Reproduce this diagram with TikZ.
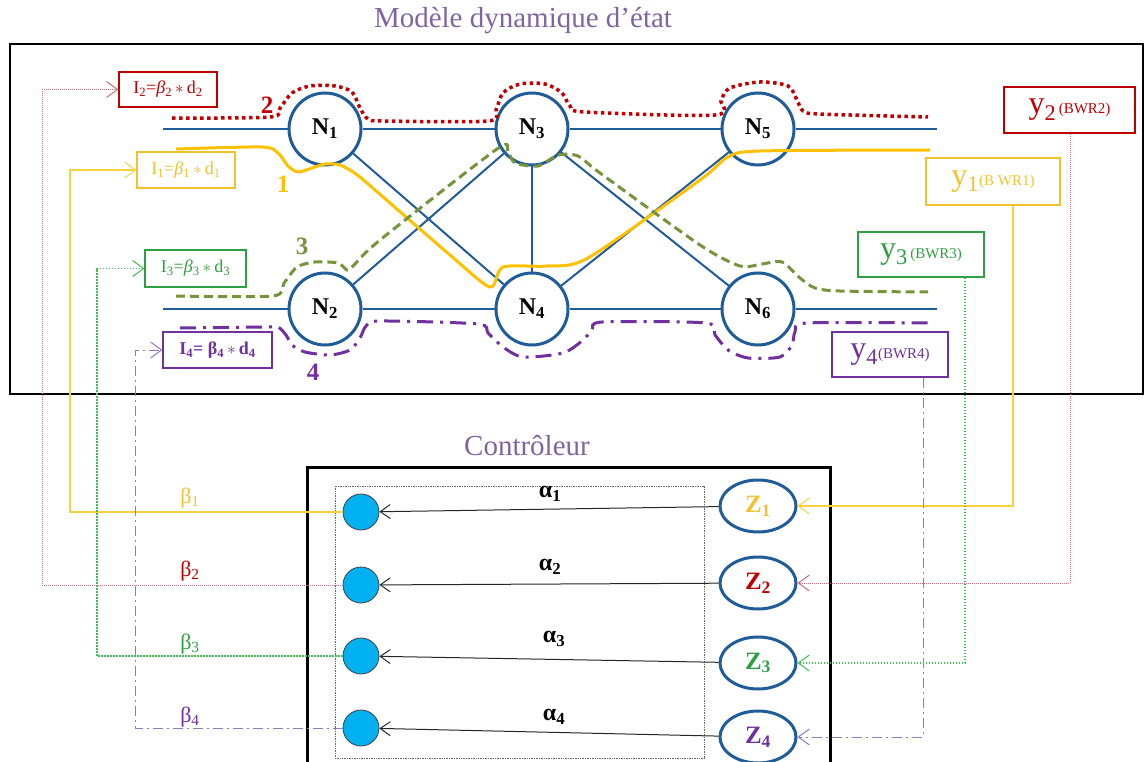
\documentclass[tikz,border=0pt]{standalone}
\usepackage{fontspec}
\setmainfont{Liberation Serif}
\usetikzlibrary{arrows.meta,shapes.geometric}
\definecolor{nblue}{HTML}{1F5C99}
\definecolor{dred}{HTML}{C00000}
\definecolor{gold}{HTML}{FFC000}
\definecolor{olivec}{HTML}{77933C}
\definecolor{purp}{HTML}{7030A0}
\definecolor{lav}{HTML}{8064A2}
\definecolor{ytxt}{HTML}{F2C12E}
\definecolor{grn}{HTML}{2EA043}
\definecolor{cyanf}{HTML}{00B0F0}
\definecolor{pinkc}{HTML}{C8707E}
\definecolor{lgrn}{HTML}{3CC050}
\definecolor{lyel}{HTML}{F8D040}
\definecolor{lpur}{HTML}{8C7CC0}
\begin{document}
\begin{tikzpicture}[x=1pt,y=-1pt,
  netnode/.style={circle,draw=nblue,line width=3pt,minimum size=72pt,inner sep=0pt,font=\fontsize{24}{24}\selectfont\bfseries},
  zell/.style={ellipse,draw=nblue,line width=3pt,minimum width=76pt,minimum height=52pt,inner sep=0pt,font=\fontsize{25}{25}\selectfont\bfseries},
  cdot/.style={circle,fill=cyanf,draw=black!75,line width=0.8pt,minimum size=36pt,inner sep=0pt},
  lbox/.style={draw,line width=1.2pt,inner sep=0pt,font=\fontsize{18}{18}\selectfont},
  ybox/.style={draw,line width=1.2pt,inner sep=0pt},
  net/.style={draw=nblue,line width=2pt},
  num/.style={font=\fontsize{25}{25}\selectfont\bfseries},
  tip/.style={-{Straight Barb[length=11pt,width=16pt,line width=1pt]}},
  yconn/.style={draw=lyel,line width=1.5pt},
  rconn/.style={draw=pinkc,line width=1pt,dash pattern=on 1pt off 1pt},
  gconn/.style={draw=lgrn,line width=1.5pt,dash pattern=on 1.5pt off 1.5pt},
  pconn/.style={draw=lpur,line width=1pt,dash pattern=on 10pt off 4pt on 2pt off 4pt},
  aarrow/.style={draw=black!85,line width=1pt,-{Straight Barb[length=10pt,width=14pt,line width=1pt]}},
  alab/.style={font=\fontsize{24}{24}\selectfont\bfseries},
  blab/.style={font=\fontsize{22}{22}\selectfont},
  ttl/.style={text=lav,font=\fontsize{29}{29}\selectfont}
]
\useasboundingbox (0,0) rectangle (1145,762);

% titles and frames
\node[ttl] (title) at (523,21) {Modèle dynamique d’état};
\draw[line width=2.5pt] (10,44) rectangle (1143,394);
\node[ttl] (ctitle) at (527,446) {Contrôleur};
\draw[line width=3pt] (307,790) -- (307,467) -- (830,467) -- (830,790);
\draw[black!60,line width=0.7pt,densely dotted] (335,486) rectangle (704,758);

% network nodes
\node[netnode] (N1) at (325,129) {N\textsubscript{1}};
\node[netnode] (N3) at (532,129) {N\textsubscript{3}};
\node[netnode] (N5) at (758,129) {N\textsubscript{5}};
\node[netnode] (N2) at (325,309) {N\textsubscript{2}};
\node[netnode] (N4) at (532,309) {N\textsubscript{4}};
\node[netnode] (N6) at (758,309) {N\textsubscript{6}};
\coordinate (tl) at (163,129);
\coordinate (tr) at (937,129);
\coordinate (bl) at (163,309);
\coordinate (br) at (937,309);
\draw[net] (tl) -- (N1);
\draw[net] (N1) -- (N3);
\draw[net] (N3) -- (N5);
\draw[net] (N5) -- (tr);
\draw[net] (bl) -- (N2);
\draw[net] (N2) -- (N4);
\draw[net] (N4) -- (N6);
\draw[net] (N6) -- (br);
\draw[net] (N1) -- (N4);
\draw[net] (N2) -- (N3);
\draw[net] (N3) -- (N4);
\draw[net] (N3) -- (N6);
\draw[net] (N4) -- (N5);

% path 2 (red dotted)
\draw[dred,line width=3.5pt,dash pattern=on 3.5pt off 3.5pt] plot[smooth,tension=0.5] coordinates {
 (172,118) (270,117) (280,108) (292,93) (310,86) (335,86) (352,92) (360,108) (368,119) (385,121)
 (488,121) (496,110) (503,93) (520,84) (545,84) (562,93) (570,106) (585,112) (715,115) (721,100)
 (730,88) (760,82) (788,86) (797,100) (803,111) (820,114) (928,117)};
% path 1 (yellow)
\draw[gold,line width=3pt] plot[smooth,tension=0.45] coordinates {
 (176,149) (262,147) (278,153) (288,166) (298,172) (312,168) (325,164) (340,165) (356,174) (375,190)
 (450,255) (490,287) (503,267) (547,266) (588,258) (700,180) (728,157) (760,151) (930,150)};
% path 3 (olive dashed)
\draw[olivec,line width=3pt,dash pattern=on 9pt off 5pt] plot[smooth,tension=0.45] coordinates {
 (176,296) (273,296) (284,283) (297,267) (315,262) (338,263) (347,270) (353,266) (380,240)
 (497,149) (508,152) (515,163) (538,166) (558,155) (578,156) (600,173) (700,245) (740,266)
 (762,264) (782,262) (800,278) (815,288) (840,291) (928,292)};
% path 4 (purple dash-dot)
\draw[purp,line width=3pt,dash pattern=on 16pt off 7pt on 3pt off 7pt] plot[smooth,tension=0.45] coordinates {
 (180,328) (265,327) (278,327) (286,335) (292,345) (305,352) (330,355) (350,350) (360,338) (366,326)
 (380,321) (478,324) (488,333) (503,347) (523,357) (563,353) (583,340) (592,330) (602,322) (706,323)
 (715,335) (728,350) (748,358) (780,357) (792,345) (795,332) (807,323) (930,323)};

\node[num,text=dred] (n2) at (267,105) {2};
\node[num,text=gold] (n1) at (283,184) {1};
\node[num,text=olivec] (n3) at (302,246) {3};
\node[num,text=purp] (n4) at (313,372) {4};

% left input boxes
\node[lbox,draw=dred,text=dred,minimum width=98pt,minimum height=35pt] (I2) at (168,89.5)
  {I\textsubscript{2}=\textit{β}\textsubscript{2}\,$\ast$\,d\textsubscript{2}};
\node[lbox,draw=ytxt,text=ytxt,minimum width=98pt,minimum height=36pt] (I1) at (186,170)
  {I\textsubscript{1}=\textit{β}\textsubscript{1}\,$\ast$\,d\textsubscript{1}};
\node[lbox,draw=grn,text=grn,minimum width=101pt,minimum height=37pt] (I3) at (195.5,268.5)
  {I\textsubscript{3}=\textit{β}\textsubscript{3}\,$\ast$\,d\textsubscript{3}};
\node[lbox,draw=purp,text=purp,minimum width=109pt,minimum height=36pt,font=\fontsize{18}{18}\selectfont\bfseries] (I4) at (217.5,350)
  {I\textsubscript{4}= β\textsubscript{4}\,$\ast$\,d\textsubscript{4}};

% right output boxes
\node[ybox,draw=dred,text=dred,minimum width=131pt,minimum height=46pt] (Y2) at (1069.5,110)
  {{\fontsize{32}{32}\selectfont y\textsubscript{2}}\ {\fontsize{15}{15}\selectfont (BWR2)}};
\node[ybox,draw=ytxt,text=ytxt,minimum width=134pt,minimum height=47pt] (Y1) at (993,181.5)
  {{\fontsize{32}{32}\selectfont y\textsubscript{1}}{\fontsize{15}{15}\selectfont (B WR1)}};
\node[ybox,draw=grn,text=grn,minimum width=126pt,minimum height=45pt] (Y3) at (921,254.5)
  {{\fontsize{32}{32}\selectfont y\textsubscript{3}}\ {\fontsize{15}{15}\selectfont (BWR3)}};
\node[ybox,draw=purp,text=purp,minimum width=116pt,minimum height=45pt] (Y4) at (890,354.5)
  {{\fontsize{32}{32}\selectfont y\textsubscript{4}}{\fontsize{15}{15}\selectfont (BWR4)}};

% controller nodes
\node[cdot] (c1) at (361,512) {};
\node[cdot] (c2) at (361,585) {};
\node[cdot] (c3) at (361,656) {};
\node[cdot] (c4) at (361,728) {};
\node[zell,text=ytxt] (Z1) at (758,506) {Z\textsubscript{1}};
\node[zell,text=dred] (Z2) at (758,583) {Z\textsubscript{2}};
\node[zell,text=grn] (Z3) at (758,663) {Z\textsubscript{3}};
\node[zell,text=purp] (Z4) at (758,737) {Z\textsubscript{4}};

\draw[aarrow] (Z1) -- (c1);
\draw[aarrow] (Z2) -- (c2);
\draw[aarrow] (Z3) -- (c3);
\draw[aarrow] (Z4) -- (c4);
\node[alab] (a1) at (550,494) {α\textsubscript{1}};
\node[alab] (a2) at (550,567) {α\textsubscript{2}};
\node[alab] (a3) at (554,639) {α\textsubscript{3}};
\node[alab] (a4) at (554,717) {α\textsubscript{4}};

% beta labels
\node[blab,text=ytxt] (b1) at (190,498) {β\textsubscript{1}};
\node[blab,text=dred] (b2) at (190,571) {β\textsubscript{2}};
\node[blab,text=grn] (b3) at (190,644) {β\textsubscript{3}};
\node[blab,text=purp] (b4) at (190,717) {β\textsubscript{4}};

% feedback connectors (left)
\coordinate (k1) at (70,512);
\coordinate (k2) at (42,585);
\coordinate (k3) at (97,656);
\coordinate (k4) at (135,728);
\draw[yconn,tip] (c1) -- (k1) |- (I1);
\draw[rconn,tip] (c2) -- (k2) |- (I2);
\draw[gconn,tip] (c3) -- (k3) |- (I3);
\draw[pconn,tip] (c4) -- (k4) |- (I4);

% measurement connectors (right)
\coordinate (m1) at (1013,506);
\coordinate (m2) at (1070,583);
\coordinate (m3) at (965,663);
\coordinate (m4) at (923,737);
\draw[yconn,tip] (Y1.south -| m1) -- (m1) -- (Z1);
\draw[rconn,tip] (Y2.south -| m2) -- (m2) -- (Z2);
\draw[gconn,tip] (Y3.south -| m3) -- (m3) -- (Z3);
\draw[pconn,tip] (Y4.south -| m4) -- (m4) -- (Z4);
\end{tikzpicture}
\end{document}
